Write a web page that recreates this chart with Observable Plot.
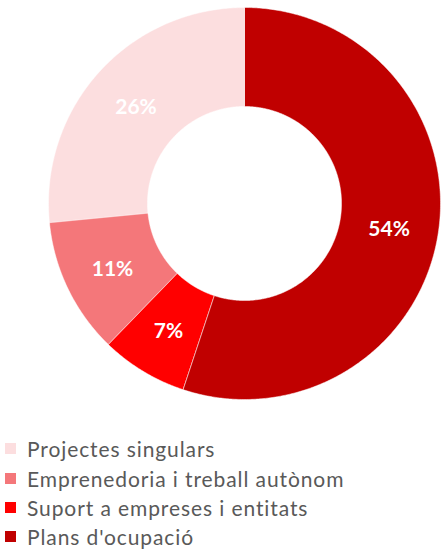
<!DOCTYPE html>
<html>
<head>
<meta charset="utf-8">
<script src="https://cdn.jsdelivr.net/npm/d3@7"></script>
<script src="https://cdn.jsdelivr.net/npm/@observablehq/plot@0.6"></script>
<style>
  body { margin: 0; background: #fff; font-family: Lato, "Open Sans", sans-serif; }
  #chart { position: relative; width: 441px; height: 551px; }
  #legend { position: absolute; left: 0; top: 434px; }
  .row { display: flex; align-items: center; height: 29.4px; }
  .sw { width: 11px; height: 11px; margin-left: 5px; margin-right: 11px; }
  .lab { font-size: 21px; letter-spacing: 0.9px; color: #595959; white-space: nowrap; }
</style>
</head>
<body>
<div id="chart"></div>
<script>
const categories = ["Plans d'ocupació", "Suport a empreses i entitats", "Emprenedoria i treball autònom", "Projectes singulars"];
const values = [54, 7, 11, 26];
const labels = ["54%", "7%", "11%", "26%"];
const colors = ["#C00000", "#FF0000", "#F4777A", "#FCDEDF"];
const legendOrder = ["Projectes singulars", "Emprenedoria i treball autònom", "Suport a empreses i entitats", "Plans d'ocupació"];

const rOuter = 1, rInner = 0.495;
const arcs = d3.pie().sort(null).startAngle(0).endAngle(2 * Math.PI)(values);

// ring polygons built from the pie angles
const pts = [];
arcs.forEach((a, i) => {
  const n = Math.max(8, Math.ceil((a.endAngle - a.startAngle) / (Math.PI / 360)));
  for (let k = 0; k <= n; k++) {
    const t = a.startAngle + (a.endAngle - a.startAngle) * k / n;
    pts.push({cat: categories[i], x: rOuter * Math.sin(t), y: rOuter * Math.cos(t)});
  }
  for (let k = n; k >= 0; k--) {
    const t = a.startAngle + (a.endAngle - a.startAngle) * k / n;
    pts.push({cat: categories[i], x: rInner * Math.sin(t), y: rInner * Math.cos(t)});
  }
});
const rMid = (rOuter + rInner) / 2;
const labelData = arcs.map((a, i) => {
  const t = (a.startAngle + a.endAngle) / 2;
  return {text: labels[i], x: rMid * Math.sin(t), y: rMid * Math.cos(t)};
});

const plot = Plot.plot({
  width: 441,
  height: 410,
  marginLeft: 48,
  marginRight: 1,
  marginTop: 7,
  marginBottom: 11,
  x: {domain: [-1, 1], axis: null},
  y: {domain: [-1, 1], axis: null},
  color: {domain: categories, range: colors},
  style: {background: "white", fontFamily: "Lato, 'Open Sans', sans-serif"},
  marks: [
    Plot.line(pts, {x: "x", y: "y", z: "cat", fill: "cat", stroke: "white", strokeWidth: 0.5, curve: "linear-closed"}),
    Plot.text(labelData, {x: "x", y: "y", text: "text", fill: "white", fontSize: 21, fontWeight: "bold", dy: 2})
  ]
});
const chart = document.getElementById("chart");
chart.appendChild(plot);

const color = plot.scale("color");
const cmap = new Map(color.domain.map((d, i) => [d, color.range[i]]));
const legend = document.createElement("div");
legend.id = "legend";
legendOrder.forEach(c => {
  const row = document.createElement("div");
  row.className = "row";
  const sw = document.createElement("div");
  sw.className = "sw";
  sw.style.background = cmap.get(c);
  const lab = document.createElement("div");
  lab.className = "lab";
  lab.textContent = c;
  row.appendChild(sw);
  row.appendChild(lab);
  legend.appendChild(row);
});
chart.appendChild(legend);
</script>
</body>
</html>
